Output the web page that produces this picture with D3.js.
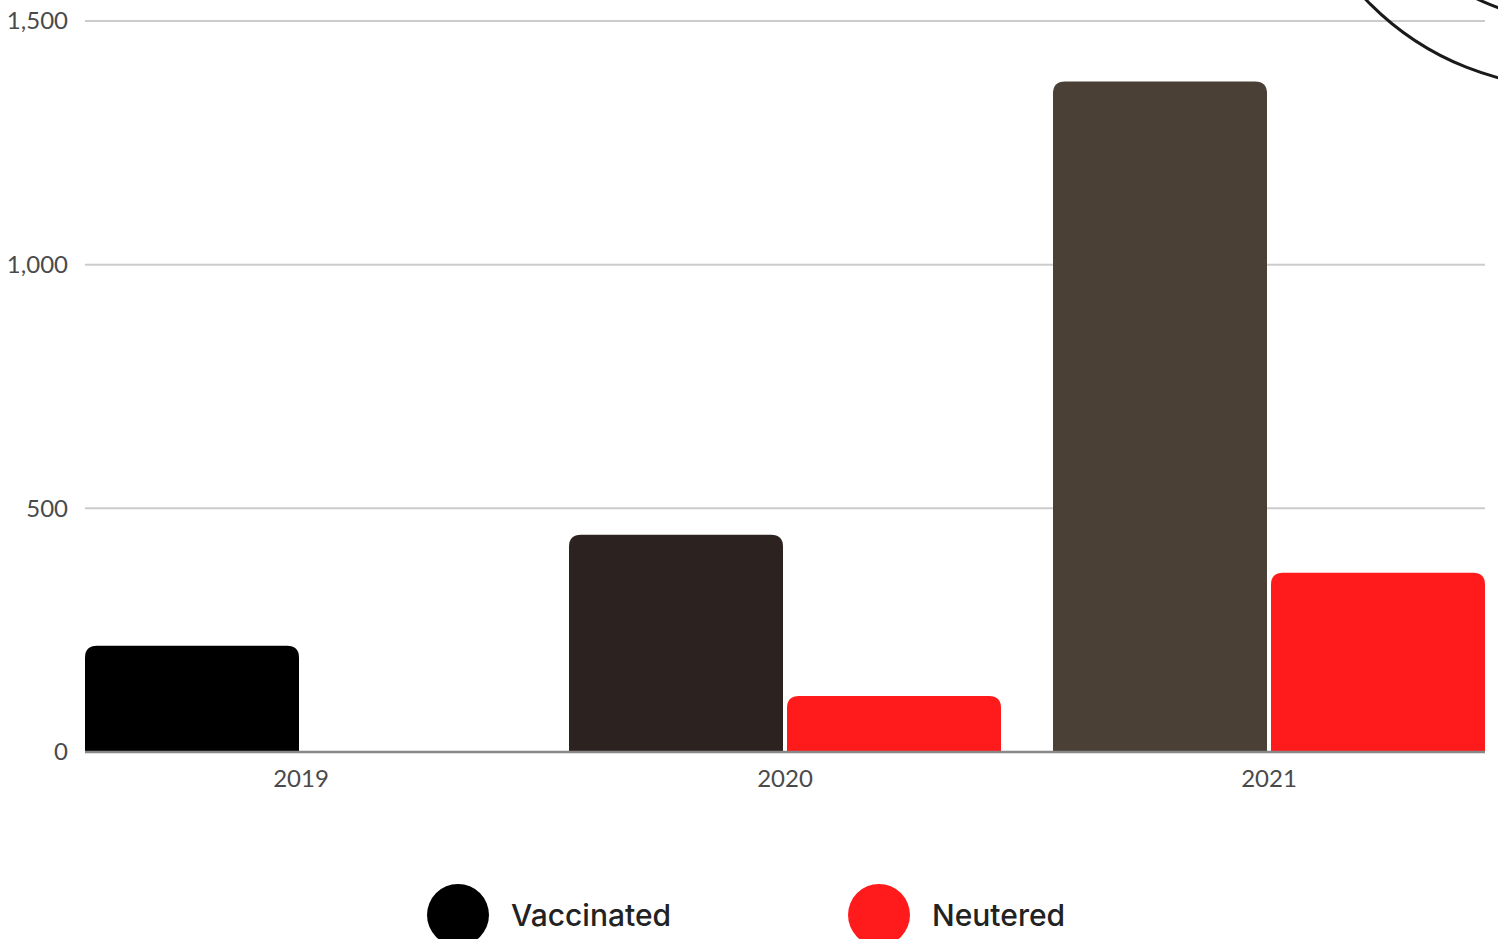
<!DOCTYPE html>
<html>
<head>
<meta charset="utf-8">
<script src="https://cdn.jsdelivr.net/npm/d3@7"></script>
<style>
  body { margin: 0; background: #fff; }
  .tick text { font-family: Lato, sans-serif; font-size: 24px; fill: #4a4a4a; }
  .legend text { font-family: Inter, "Open Sans", sans-serif; font-size: 30px; font-weight: 500; fill: #222; }
</style>
</head>
<body>
<div id="chart"></div>
<script>
var years = ["2019", "2020", "2021"];
var seriesNames = ["Vaccinated", "Neutered"];
var vaccinated = [218, 446, 1376];
var neutered = [0, 115, 368];
var yTicks = [0, 500, 1000, 1500];

var svgWidth = 1498;
var svgHeight = 939;

var margin = { top: 21, right: 13, bottom: 187, left: 85 };
var width = svgWidth - margin.left - margin.right;
var height = svgHeight - margin.top - margin.bottom;

// vaccinated bars get darker-to-lighter browns by year, neutered is always red
var vaccColors = ["#000000", "#2c2220", "#4a4035"];
var neutColor = "#ff1b1b";

var svg = d3.select("#chart")
  .append("svg")
  .attr("width", svgWidth)
  .attr("height", svgHeight);

var chartGroup = svg.append("g")
  .attr("transform", `translate(${margin.left}, ${margin.top})`);

var rows = years.map(function(y, i) {
  return { year: y, values: [vaccinated[i], neutered[i]] };
});

var x0 = d3.scaleBand()
  .domain(years)
  .range([0, width])
  .paddingInner(52 / 484)
  .paddingOuter(0);

var x1 = d3.scaleBand()
  .domain(seriesNames)
  .range([0, x0.bandwidth()])
  .paddingInner(4 / 218);

var yScale = d3.scaleLinear()
  .domain([0, 1500])
  .range([height, 0]);

// gridlines
chartGroup.append("g")
  .selectAll("line")
  .data(yTicks.slice(1))
  .enter()
  .append("line")
  .attr("x1", 0)
  .attr("x2", width)
  .attr("y1", d => yScale(d))
  .attr("y2", d => yScale(d))
  .attr("stroke", "#cccccc")
  .attr("stroke-width", 2);

// y axis labels only
var leftAxis = d3.axisLeft(yScale)
  .tickValues(yTicks)
  .tickFormat(d3.format(","))
  .tickSize(0)
  .tickPadding(17);

chartGroup.append("g")
  .call(leftAxis)
  .call(g => g.select(".domain").remove());

// rounded-top bar path
function topRounded(x, y, w, h, r) {
  if (h <= 0) return "";
  r = Math.min(r, h, w / 2);
  return `M${x},${y + h}V${y + r}Q${x},${y} ${x + r},${y}H${x + w - r}Q${x + w},${y} ${x + w},${y + r}V${y + h}Z`;
}

var groups = chartGroup.selectAll("g.year")
  .data(rows)
  .enter()
  .append("g")
  .attr("class", "year")
  .attr("transform", d => `translate(${x0(d.year)}, 0)`);

groups.selectAll("path")
  .data((d, i) => d.values.map((v, j) => ({ key: seriesNames[j], value: v, yi: i })))
  .enter()
  .append("path")
  .attr("d", d => topRounded(x1(d.key), yScale(d.value), x1.bandwidth(), height - yScale(d.value), 12))
  .attr("fill", d => d.key === "Vaccinated" ? vaccColors[d.yi] : neutColor);

// baseline
chartGroup.append("line")
  .attr("x1", 0)
  .attr("x2", width)
  .attr("y1", height)
  .attr("y2", height)
  .attr("stroke", "#888888")
  .attr("stroke-width", 2.5);

// x axis labels
var bottomAxis = d3.axisBottom(x0)
  .tickSize(0)
  .tickPadding(18);

chartGroup.append("g")
  .attr("transform", `translate(0, ${height})`)
  .call(bottomAxis)
  .call(g => g.select(".domain").remove());

// legend
var legendX = [458, 879];
var legend = svg.append("g").attr("class", "legend");

legend.selectAll("circle")
  .data(seriesNames)
  .enter()
  .append("circle")
  .attr("cx", (d, i) => legendX[i])
  .attr("cy", 915)
  .attr("r", 31)
  .attr("fill", (d, i) => i === 0 ? "#000000" : neutColor);

legend.selectAll("text")
  .data(seriesNames)
  .enter()
  .append("text")
  .attr("x", (d, i) => legendX[i] + 53)
  .attr("y", 926)
  .text(d => d);

// decorative circles peeking in at the top right
svg.append("g")
  .selectAll("circle")
  .data([282, 215])
  .enter()
  .append("circle")
  .attr("cx", 1570)
  .attr("cy", -195)
  .attr("r", d => d)
  .attr("fill", "none")
  .attr("stroke", "#1a1a1a")
  .attr("stroke-width", 3);
</script>
</body>
</html>
